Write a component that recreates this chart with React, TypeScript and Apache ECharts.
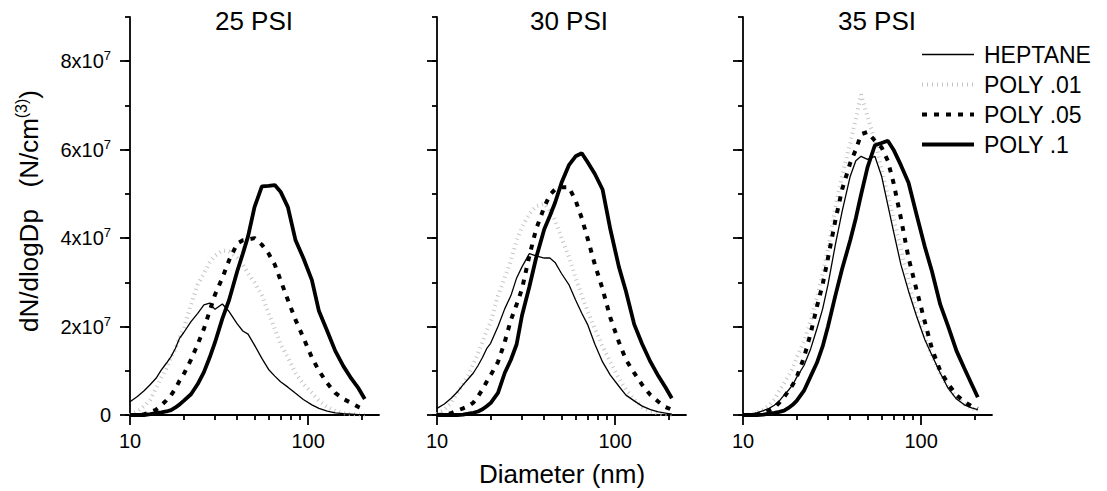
import React, { useEffect, useRef } from 'react';
import * as echarts from 'echarts';

// Particle diameters (nm), shared by every curve
const DIAMETERS = [10, 11, 12, 13, 14, 15, 16, 17, 18, 19, 20, 22, 24, 26, 28, 30, 33, 36, 40, 43, 46, 50, 55, 60, 65, 70, 77, 85, 94, 105, 115, 128, 142, 158, 175, 192, 208];

// dN/dlogDp values in units of 1e7 N/cm^3
const HEPTANE_25 = [0.30, 0.42, 0.55, 0.69, 0.83, 1.02, 1.17, 1.32, 1.51, 1.74, 1.86, 2.11, 2.30, 2.49, 2.53, 2.39, 2.51, 2.34, 2.06, 1.90, 1.83, 1.58, 1.28, 1.03, 0.88, 0.75, 0.63, 0.49, 0.35, 0.23, 0.15, 0.09, 0.05, 0.03, 0.02, 0.01, 0.01];
const POLY01_25 = [0.0, 0.08, 0.2, 0.35, 0.6, 0.85, 1.05, 1.3, 1.5, 1.75, 1.95, 2.5, 2.95, 3.2, 3.45, 3.6, 3.72, 3.7, 3.55, 3.4, 3.2, 3.0, 2.7, 2.3, 1.95, 1.6, 1.3, 0.95, 0.7, 0.5, 0.32, 0.18, 0.09, 0.04, 0.02, 0.01, 0.0];
const POLY05_25 = [0.0, 0.0, 0.02, 0.06, 0.12, 0.22, 0.33, 0.45, 0.6, 0.78, 0.92, 1.25, 1.6, 1.95, 2.35, 2.72, 3.1, 3.5, 3.88, 3.95, 3.97, 4.0, 3.85, 3.65, 3.4, 3.05, 2.6, 2.15, 1.75, 1.3, 1.0, 0.72, 0.5, 0.36, 0.27, 0.18, 0.12];
const POLY1_25 = [0.0, 0.0, 0.0, 0.02, 0.04, 0.06, 0.08, 0.11, 0.17, 0.24, 0.32, 0.47, 0.7, 0.97, 1.3, 1.64, 2.18, 2.6, 3.25, 3.65, 4.04, 4.7, 5.17, 5.18, 5.2, 5.05, 4.7, 3.95, 3.55, 3.05, 2.35, 1.9, 1.45, 1.1, 0.82, 0.6, 0.36];

const HEPTANE_30 = [0.15, 0.25, 0.38, 0.52, 0.68, 0.82, 0.95, 1.12, 1.3, 1.5, 1.62, 2.0, 2.4, 2.7, 3.1, 3.35, 3.65, 3.6, 3.55, 3.55, 3.45, 3.2, 2.95, 2.6, 2.3, 2.05, 1.6, 1.2, 0.9, 0.65, 0.45, 0.32, 0.2, 0.12, 0.07, 0.04, 0.02];
const POLY01_30 = [0.02, 0.12, 0.28, 0.5, 0.7, 0.9, 1.15, 1.4, 1.65, 1.9, 2.1, 2.7, 3.1, 3.5, 3.95, 4.25, 4.55, 4.72, 4.78, 4.62, 4.4, 4.0, 3.58, 3.1, 2.7, 2.35, 1.95, 1.55, 1.2, 0.82, 0.58, 0.35, 0.18, 0.08, 0.03, 0.01, 0.0];
const POLY05_30 = [0.0, 0.01, 0.04, 0.1, 0.15, 0.2, 0.28, 0.42, 0.58, 0.75, 0.9, 1.2, 1.65, 2.15, 2.5, 2.85, 3.6, 4.2, 4.7, 4.98, 5.1, 5.15, 5.15, 4.85, 4.45, 4.0, 3.4, 2.85, 2.2, 1.65, 1.25, 0.95, 0.68, 0.45, 0.3, 0.18, 0.12];
const POLY1_30 = [0.0, 0.0, 0.0, 0.0, 0.01, 0.03, 0.05, 0.08, 0.13, 0.2, 0.27, 0.5, 0.95, 1.25, 1.6, 2.25, 2.9, 3.55, 4.2, 4.5, 4.8, 5.25, 5.65, 5.85, 5.92, 5.72, 5.45, 5.1, 4.2, 3.35, 2.8, 2.05, 1.6, 1.2, 0.88, 0.62, 0.38];

const HEPTANE_35 = [0.0, 0.02, 0.05, 0.1, 0.15, 0.22, 0.32, 0.45, 0.56, 0.68, 0.85, 1.12, 1.5, 1.95, 2.4, 2.95, 3.85, 4.6, 5.4, 5.75, 5.85, 5.78, 5.85, 5.4, 4.75, 4.15, 3.4, 2.8, 2.25, 1.7, 1.35, 0.95, 0.6, 0.36, 0.23, 0.16, 0.12];
const POLY01_35 = [0.0, 0.02, 0.06, 0.12, 0.22, 0.35, 0.55, 0.72, 0.88, 1.05, 1.3, 1.65, 2.15, 2.65, 3.2, 3.75, 4.7, 5.4, 6.15, 6.7, 7.25, 6.75, 6.2, 5.55, 4.95, 4.45, 3.75, 3.0, 2.35, 1.75, 1.35, 0.95, 0.62, 0.4, 0.25, 0.15, 0.1];
const POLY05_35 = [0.0, 0.0, 0.02, 0.05, 0.1, 0.16, 0.28, 0.4, 0.55, 0.68, 0.85, 1.3, 1.85, 2.45, 2.95, 3.55, 4.4, 5.1, 5.7, 6.0, 6.35, 6.4, 6.2, 6.05, 5.75, 5.25, 4.45, 3.55, 2.85, 2.1, 1.5, 1.0, 0.7, 0.45, 0.3, 0.2, 0.14];
const POLY1_35 = [0.0, 0.0, 0.0, 0.01, 0.03, 0.05, 0.07, 0.1, 0.16, 0.23, 0.32, 0.55, 0.88, 1.18, 1.55, 2.0, 2.7, 3.3, 3.95, 4.45, 4.98, 5.6, 6.1, 6.15, 6.2, 6.0, 5.65, 5.25, 4.55, 3.8, 3.25, 2.5, 2.0, 1.45, 1.05, 0.7, 0.4];

const VALUE_UNIT = 1e7;
const PANEL_TITLES = ['25 PSI', '30 PSI', '35 PSI'];
const SERIES_NAMES = ['HEPTANE', 'POLY .01', 'POLY .05', 'POLY .1'];
const PANEL_DATA = [
  [HEPTANE_25, POLY01_25, POLY05_25, POLY1_25],
  [HEPTANE_30, POLY01_30, POLY05_30, POLY1_30],
  [HEPTANE_35, POLY01_35, POLY05_35, POLY1_35],
];
const Y_MAJOR_TICKS = [0, 2e7, 4e7, 6e7, 8e7];
const Y_MINOR_STEP = 1e7;
const Y_MAX = 9e7;
const X_MIN = 10;
const X_MAX = 250;
const X_MAJOR_TICKS = [10, 100];
const X_MINOR_TICKS = [20, 30, 40, 50, 60, 70, 80, 90, 200];

const FONT = '"Liberation Sans", Arial, Helvetica, sans-serif';
const GRID_LEFTS = [130, 437, 743];
const GRID_TOP = 17;
const GRID_W = 249;
const GRID_H = 398;
const TITLE_X = [254, 569, 877];

const LINE_STYLES: any[] = [
  { color: '#000', width: 1.3, type: 'solid' },
  { color: '#c4c4c4', width: 4, type: [1, 4] },
  { color: '#000', width: 4, type: [5, 7] },
  { color: '#000', width: 3.8, type: 'solid' },
];
const Z_ORDER = [3, 1, 2, 4];

export default function App() {
  const ref = useRef<HTMLDivElement>(null);
  useEffect(() => {
    if (!ref.current) return;
    const chart = echarts.init(ref.current, null, { renderer: 'svg' });
    const axisColor = '#000';
    const grids: any[] = [];
    const xAxes: any[] = [];
    const yAxes: any[] = [];
    const series: any[] = [];
    const lg = (v: number) => Math.log10(v);

    for (let i = 0; i < 3; i++) {
      grids.push({ left: GRID_LEFTS[i], top: GRID_TOP, width: GRID_W, height: GRID_H, containLabel: false });
      // data axis (log scale)
      xAxes.push({
        type: 'log', logBase: 10, gridIndex: i, min: X_MIN, max: X_MAX,
        axisLine: { show: false }, axisTick: { show: false }, axisLabel: { show: false }, splitLine: { show: false },
      });
      // decorative axis: major ticks + labels at decades
      xAxes.push({
        type: 'value', gridIndex: i, min: lg(X_MIN), max: lg(X_MAX), position: 'bottom',
        axisLine: { show: true, onZero: false, lineStyle: { color: axisColor, width: 1.8 } },
        axisTick: { show: true, customValues: X_MAJOR_TICKS.map(lg), length: 10, lineStyle: { color: axisColor, width: 1.8 } },
        axisLabel: {
          show: true, customValues: X_MAJOR_TICKS.map(lg), margin: 16,
          formatter: (v: number) => String(Math.round(Math.pow(10, v))),
          color: '#000', fontSize: 20, fontFamily: FONT,
        },
        splitLine: { show: false },
      });
      // decorative axis: minor ticks
      xAxes.push({
        type: 'value', gridIndex: i, min: lg(X_MIN), max: lg(X_MAX), position: 'bottom',
        axisLine: { show: false, onZero: false },
        axisTick: { show: true, customValues: X_MINOR_TICKS.map(lg), length: 5, lineStyle: { color: axisColor, width: 1.8 } },
        axisLabel: { show: false },
        splitLine: { show: false },
      });
      yAxes.push({
        type: 'value', gridIndex: i, min: 0, max: Y_MAX, position: 'left',
        axisLine: { show: true, onZero: false, lineStyle: { color: axisColor, width: 1.8 } },
        axisTick: { show: true, customValues: Y_MAJOR_TICKS, length: 10, lineStyle: { color: axisColor, width: 1.8 } },
        axisLabel: {
          show: i === 0, customValues: Y_MAJOR_TICKS, margin: 19,
          formatter: (v: number) => (v === 0 ? '{b|0}' : `{b|${v / VALUE_UNIT}x10}{s|7}`),
          rich: {
            b: { fontSize: 20, lineHeight: 24, color: '#000', fontFamily: FONT },
            s: { fontSize: 13, lineHeight: 13, verticalAlign: 'top', color: '#000', fontFamily: FONT },
          },
        },
        splitLine: { show: false },
      });
      yAxes.push({
        type: 'value', gridIndex: i, min: 0, max: Y_MAX, interval: Y_MINOR_STEP, position: 'left',
        axisLine: { show: false, onZero: false },
        axisTick: { show: true, length: 5, lineStyle: { color: axisColor, width: 1.8 } },
        axisLabel: { show: false },
        splitLine: { show: false },
      });

      PANEL_DATA[i].forEach((vals, k) => {
        series.push({
          type: 'line',
          name: SERIES_NAMES[k],
          xAxisIndex: i * 3,
          yAxisIndex: i * 2,
          data: DIAMETERS.map((d, j) => [d, vals[j] * VALUE_UNIT]),
          symbol: 'none',
          showSymbol: false,
          smooth: false,
          z: Z_ORDER[k],
          lineStyle: LINE_STYLES[k],
          itemStyle: { color: LINE_STYLES[k].color },
        });
      });
    }

    const graphics: any[] = PANEL_TITLES.map((t, i) => ({
      type: 'text', x: TITLE_X[i], y: 21,
      style: { text: t, fontSize: 26, fontFamily: FONT, fill: '#000', align: 'center', verticalAlign: 'middle' },
    }));
    graphics.push({
      type: 'text', x: 562, y: 474,
      style: { text: 'Diameter (nm)', fontSize: 26, fontFamily: FONT, fill: '#000', align: 'center', verticalAlign: 'middle' },
    });
    graphics.push({
      type: 'text', x: 29, y: 211, rotation: Math.PI / 2,
      style: {
        text: '{a|dN/dlogDp   (N/cm}{s|(3)}{a|)}',
        align: 'center', verticalAlign: 'middle',
        rich: {
          a: { fontSize: 26, lineHeight: 31, fontFamily: FONT, fill: '#000', color: '#000' },
          s: { fontSize: 16, lineHeight: 16, verticalAlign: 'top', fontFamily: FONT, fill: '#000', color: '#000' },
        },
      },
    });

    chart.setOption({
      animation: false,
      backgroundColor: '#fff',
      grid: grids,
      xAxis: xAxes,
      yAxis: yAxes,
      series,
      legend: {
        data: SERIES_NAMES.map((n, k) => ({
          name: n,
          itemStyle: { opacity: 0 },
          lineStyle: { color: LINE_STYLES[k].color, width: LINE_STYLES[k].width, type: LINE_STYLES[k].type },
        })),
        orient: 'vertical',
        left: 920,
        top: 43,
        padding: 0,
        itemWidth: 52,
        itemHeight: 14,
        itemGap: 7,
        itemStyle: { opacity: 0 },
        textStyle: { fontFamily: FONT, fontSize: 23, color: '#000', padding: [0, 0, 0, 5] },
      },
      graphic: graphics,
    });
    return () => chart.dispose();
  }, []);
  return <div ref={ref} style={{ position: 'absolute', left: 0, top: 0, width: 1107, height: 491 }} />;
}
